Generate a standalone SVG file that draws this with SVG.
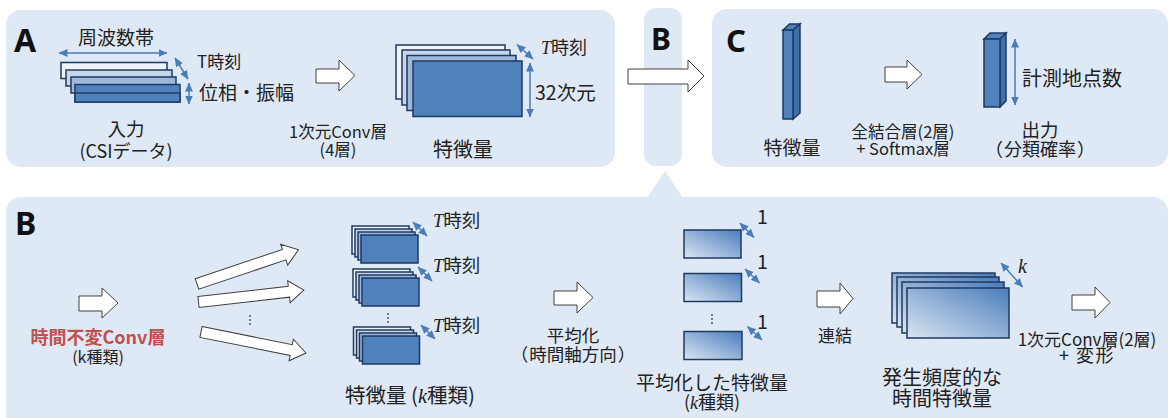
<svg xmlns="http://www.w3.org/2000/svg" width="1174" height="418" viewBox="0 0 1174 418">
<defs>
<style>
.panel{fill:#dfe8f5;}
.t{font-family:"Noto Sans CJK JP","Noto Sans",sans-serif;fill:#222;}
.big{font-family:"Noto Sans","Noto Sans CJK JP",sans-serif;font-weight:bold;fill:#111;}
.it{font-family:"Liberation Serif",serif;font-style:italic;}
.blk{fill:#fff;stroke:#404040;stroke-width:1;}
.dim{stroke:#4a7ebb;stroke-width:1.5;fill:none;marker-start:url(#ah);marker-end:url(#ah);}
.lay{stroke:#1f3a60;stroke-width:1.5;}
.c0{fill:#eef2f9;}.c1{fill:#c7d6ea;}.c2{fill:#9db8dc;}.c3{fill:#4f81bd;}
.g{fill:url(#grad);}
.dot{fill:#444;}
</style>
<marker id="ah" viewBox="0 0 9 8" refX="8.5" refY="4" markerWidth="9" markerHeight="8" markerUnits="userSpaceOnUse" orient="auto-start-reverse">
<path d="M0,0 L9,4 L0,8 z" fill="#4a7ebb"/>
</marker>
<linearGradient id="grad" x1="0" y1="1" x2="1" y2="0">
<stop offset="0" stop-color="#dbe5f2"/>
<stop offset="1" stop-color="#4a7dbb"/>
</linearGradient>
</defs>
<rect width="1174" height="418" fill="#fff"/>

<!-- panels -->
<g id="panelA"><rect class="panel" x="6" y="10" width="609" height="157" rx="15"/></g>
<g id="panelBsmall"><rect class="panel" x="644" y="8" width="38" height="158" rx="12"/>
<polygon class="panel" points="665,171 647,198 683,198"/></g>
<g id="panelC"><rect class="panel" x="712" y="9" width="456" height="158" rx="15"/></g>
<g id="panelB"><rect class="panel" x="6" y="197" width="1162" height="235" rx="15"/></g>

<!-- labels A B C -->
<text class="big" x="14" y="52" font-size="32">A</text>
<text class="big" x="651" y="50" font-size="30">B</text>
<text class="big" x="726" y="52" font-size="31">C</text>
<text class="big" x="15" y="235" font-size="32">B</text>

<!-- Input node -->
<g id="input">
<rect class="lay c0" x="61" y="62.5" width="106" height="16"/>
<rect class="lay c1" x="66" y="70" width="106" height="16"/>
<rect class="lay c2" x="71" y="77" width="105" height="16"/>
<rect class="lay c3" x="75" y="84.5" width="105" height="17.5"/>
<rect class="lay c3" x="75" y="93" width="105" height="9"/>
<line class="dim" x1="59" y1="53" x2="167" y2="53"/>
<line class="dim" x1="175" y1="58" x2="188" y2="79"/>
<line class="dim" x1="189" y1="83" x2="189" y2="104"/>
<text class="t" x="116" y="44.5" font-size="19" text-anchor="middle">周波数帯</text>
<text class="t" x="197" y="68" font-size="17">T時刻</text>
<text class="t" x="199" y="100" font-size="19">位相・振幅</text>
<text class="t" x="126" y="136" font-size="18.5" text-anchor="middle">入力<tspan x="126" dy="22" font-size="18">(CSIデータ)</tspan></text>
</g>

<!-- Feature A -->
<g id="featureA">
<rect class="lay c0" x="396" y="45" width="109" height="54"/>
<rect class="lay c1" x="402" y="50" width="108" height="55"/>
<rect class="lay c2" x="407" y="55.5" width="109" height="55"/>
<rect class="lay c3" x="413" y="61" width="109" height="55.5"/>
<line class="dim" x1="517" y1="44.5" x2="533" y2="59"/>
<line class="dim" x1="530" y1="63" x2="530" y2="117"/>
<text class="t" x="541" y="53.5" font-size="18"><tspan class="it">T</tspan>時刻</text>
<text class="t" x="535" y="100" font-size="19.5">32次元</text>
<text class="t" x="463" y="157" font-size="20" text-anchor="middle">特徴量</text>
</g>

<!-- C features -->
<g id="featureC">
<polygon class="lay c3" points="783,30 789.5,24 800,24 793,30"/>
<polygon class="lay" fill="#3f6fab" points="793,30 800,24 800,113 793,119"/>
<rect class="lay c3" x="783" y="30" width="10" height="89"/>
<text class="t" x="792" y="155" font-size="19" text-anchor="middle">特徴量</text>
</g>
<g id="outputC">
<polygon class="lay c3" points="984,39 990,33 1006,33 1000,39"/>
<polygon class="lay" fill="#3f6fab" points="1000,39 1006,33 1006,101 1000,107"/>
<rect class="lay c3" x="984" y="39" width="16" height="68"/>
<line class="dim" x1="1015" y1="39" x2="1015" y2="105"/>
<text class="t" x="1022" y="86" font-size="20">計測地点数</text>
<text class="t" x="1040" y="137" font-size="18.5" text-anchor="middle">出力<tspan x="1040" dy="19" font-size="18">（<tspan dx="1">分類確率</tspan><tspan dx="1">）</tspan></tspan></text>
</g>

<!-- B: conv label -->
<g id="convB">
<text class="t" x="98" y="343.5" font-size="18" text-anchor="middle"><tspan font-weight="bold" style="fill:#c0504d">時間不変Conv層</tspan><tspan x="98" dy="19.5" font-size="16">(k種類)</tspan></text>
</g>

<!-- B feature stacks -->
<g id="featuresB">
<rect class="lay c0" x="352" y="226" width="57" height="28"/>
<rect class="lay c1" x="355" y="229" width="57" height="28"/>
<rect class="lay c2" x="358" y="232" width="57" height="28"/>
<rect class="lay c3" x="361" y="235" width="57" height="28"/>
<rect class="lay c0" x="353" y="269" width="57" height="28"/>
<rect class="lay c1" x="356" y="272" width="57" height="28"/>
<rect class="lay c2" x="359" y="275" width="57" height="28"/>
<rect class="lay c3" x="362" y="278" width="57" height="28"/>
<rect class="lay c0" x="353.5" y="327" width="57" height="28"/>
<rect class="lay c1" x="356.5" y="330" width="57" height="28"/>
<rect class="lay c2" x="359.5" y="333" width="57" height="28"/>
<rect class="lay c3" x="362.5" y="336" width="57" height="28"/>
<line class="dim" x1="413" y1="222" x2="427" y2="236"/>
<line class="dim" x1="418" y1="267" x2="432" y2="281"/>
<line class="dim" x1="421" y1="325" x2="435" y2="339"/>
<circle class="dot" cx="388" cy="314" r="0.9"/><circle class="dot" cx="388" cy="318" r="0.9"/><circle class="dot" cx="388" cy="322" r="0.9"/>
<text class="t" x="433" y="227" font-size="18.5"><tspan class="it">T</tspan>時刻</text>
<text class="t" x="433" y="272" font-size="18.5"><tspan class="it">T</tspan>時刻</text>
<text class="t" x="433" y="331.5" font-size="18.5"><tspan class="it">T</tspan>時刻</text>
<text class="t" x="410" y="403" font-size="20.5" text-anchor="middle">特徴量 (<tspan class="it">k</tspan>種類)</text>
</g>

<!-- averaged -->
<g id="averaged">
<rect class="lay g" x="684" y="230" width="57" height="28"/>
<rect class="lay g" x="684" y="273.5" width="57.5" height="28"/>
<rect class="lay g" x="684" y="331.5" width="58" height="28"/>
<line class="dim" x1="740" y1="223" x2="754" y2="237.5"/>
<line class="dim" x1="745" y1="269" x2="759.5" y2="283"/>
<line class="dim" x1="747.5" y1="326.5" x2="762" y2="340"/>
<circle class="dot" cx="712" cy="315" r="0.9"/><circle class="dot" cx="712" cy="319" r="0.9"/><circle class="dot" cx="712" cy="323" r="0.9"/>
<text class="t" x="757" y="224" font-size="19.5">1</text>
<text class="t" x="757" y="269" font-size="19.5">1</text>
<text class="t" x="757" y="329" font-size="19.5">1</text>
<text class="t" x="712" y="390" font-size="19" text-anchor="middle">平均化した特徴量<tspan x="712" dy="19" font-size="18">(<tspan class="it">k</tspan>種類)</tspan></text>
</g>

<!-- concatenated -->
<g id="temporal">
<rect class="lay g" x="892" y="273" width="103" height="50"/>
<rect class="lay g" x="897" y="277" width="102" height="50"/>
<rect class="lay g" x="902" y="282" width="102" height="51"/>
<rect class="lay g" x="907" y="288" width="102" height="50"/>
<line class="dim" x1="1001" y1="263" x2="1022.5" y2="287"/>
<text class="t" x="1018" y="272.5" font-size="20"><tspan class="it">k</tspan></text>
<text class="t" x="942" y="385" font-size="20" text-anchor="middle">発生頻度的な<tspan x="942" dy="21">時間特徴量</tspan></text>
</g>

<!-- connectors -->
<g id="connectors">
<polygon class="blk" points="316,69 339,69 339,60 355,75.5 339,91 339,83 316,83"/>
<polygon class="blk" points="628,69 688,69 688,60 704,76 688,92 688,84 628,84"/>
<polygon class="blk" points="885,67 907,67 907,60 922,74.5 907,89 907,82 885,82"/>
<polygon class="blk" points="79,296 102,296 102,288 118,303 102,318 102,311 79,311"/>
<polygon class="blk" points="0,-5.5 92,-5.5 92,-11 107,0 92,11 92,5.5 0,5.5" transform="translate(197,284) rotate(-18.6)"/>
<polygon class="blk" points="0,-5.5 91,-5.5 91,-11 106,0 91,11 91,5.5 0,5.5" transform="translate(198.5,302) rotate(-6.5)"/>
<polygon class="blk" points="0,-5.5 92,-5.5 92,-11 107,0 92,11 92,5.5 0,5.5" transform="translate(201,332) rotate(11.3)"/>
<circle class="dot" cx="250" cy="316" r="0.9"/><circle class="dot" cx="250" cy="320" r="0.9"/><circle class="dot" cx="250" cy="324" r="0.9"/>
<polygon class="blk" points="554,291 577,291 577,282 593,297.5 577,313 577,305 554,305"/>
<polygon class="blk" points="817,291 840,291 840,283 853,298.5 840,314 840,307 817,307"/>
<polygon class="blk" points="1072,295 1095,295 1095,287 1110,302.5 1095,318 1095,310 1072,310"/>
<text class="t" x="338" y="138" font-size="16.5" text-anchor="middle">1次元Conv層<tspan x="338" dy="18">(4層)</tspan></text>
<text class="t" x="903" y="138" font-size="16.5" text-anchor="middle">全結合層(2層)<tspan x="903" dy="17">+ Softmax層</tspan></text>
<text class="t" x="573" y="341.5" font-size="17.5" text-anchor="middle">平均化<tspan x="573" dy="19.5" font-size="17.5">（<tspan dx="1">時間軸方向</tspan><tspan dx="1">）</tspan></tspan></text>
<text class="t" x="835" y="342" font-size="17" text-anchor="middle">連結</text>
<text class="t" x="1087" y="346" font-size="17" text-anchor="middle">1次元Conv層(2層)<tspan x="1087" dy="16" font-size="18" letter-spacing="1.5">+ 変形</tspan></text>
</g>
</svg>
